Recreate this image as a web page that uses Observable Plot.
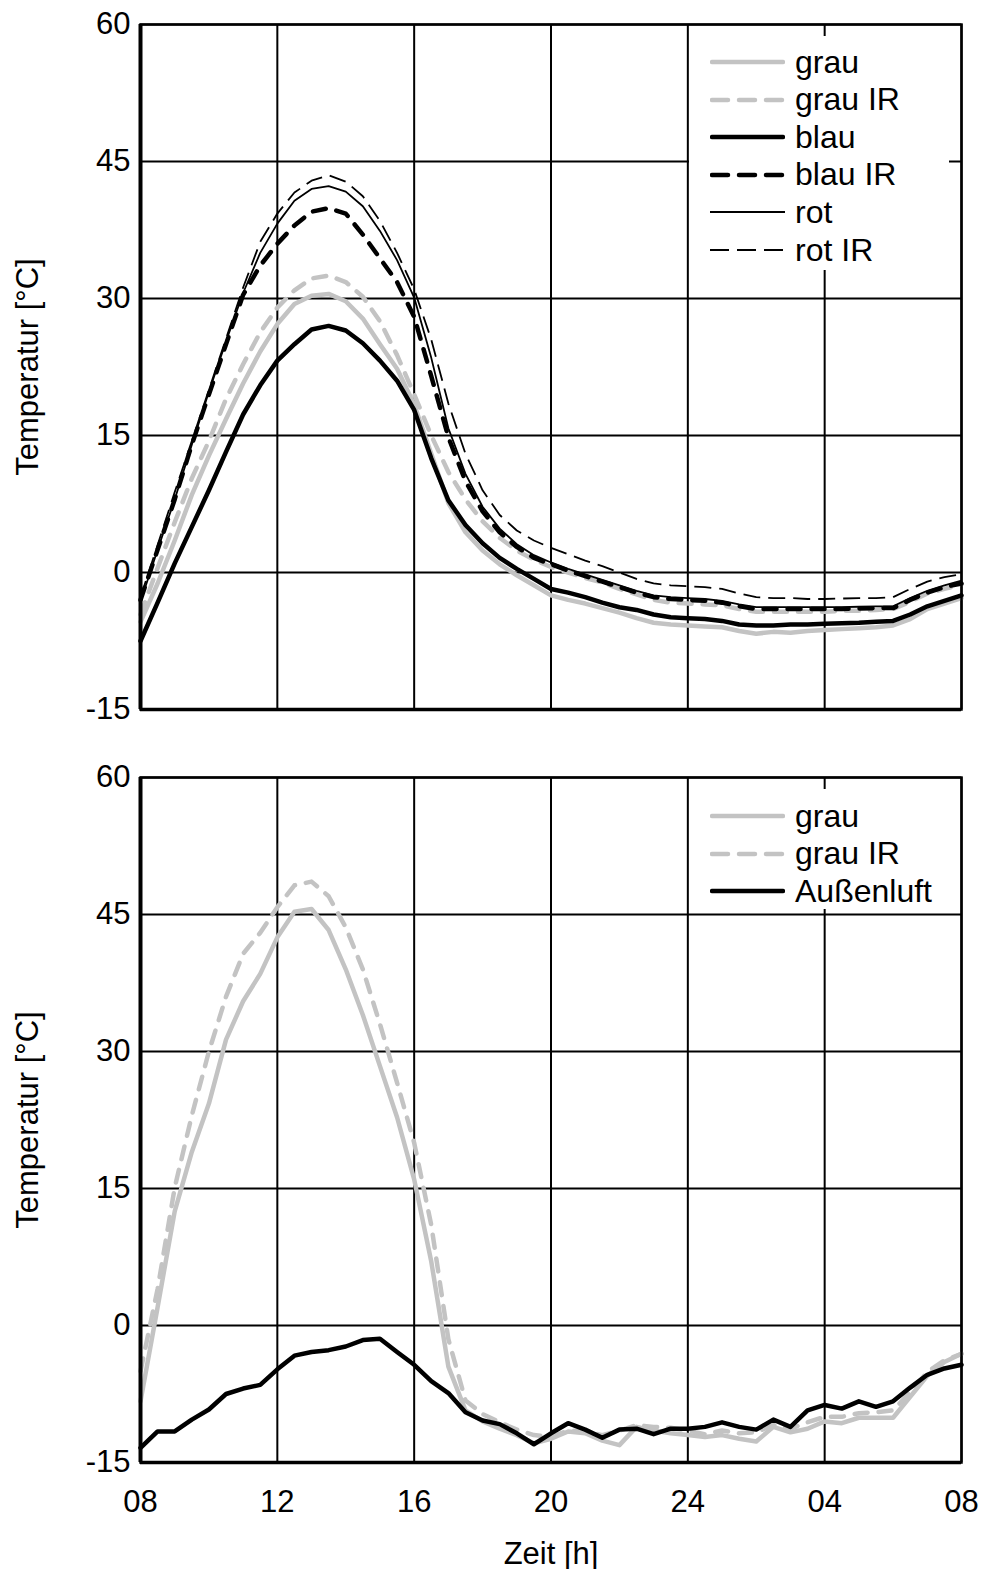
<!DOCTYPE html>
<html>
<head>
<meta charset="utf-8">
<script src="https://cdn.jsdelivr.net/npm/d3@7"></script>
<script src="https://cdn.jsdelivr.net/npm/@observablehq/plot@0.6"></script>
<style>
  body { margin: 0; background: #fff; }
  #wrap { position: relative; width: 995px; height: 1569px; font-family: "Liberation Sans", Arial, sans-serif; }
  #wrap svg.plot { display: block; }
  .legend { position: absolute; background: #fff; }
  .legend .row { position: absolute; left: 0; height: 36px; display: flex; align-items: center; font-size: 32px; color: #000; white-space: nowrap; }
  .legend .row svg { margin-left: 21px; margin-right: 10px; }
</style>
</head>
<body>
<div id="wrap"></div>
<script>
// ---- data (hours after 08:00, half-hourly) ----
const hours = [0,0.5,1,1.5,2,2.5,3,3.5,4,4.5,5,5.5,6,6.5,7,7.5,8,8.5,9,9.5,10,10.5,11,11.5,12,12.5,13,13.5,14,14.5,15,15.5,16,16.5,17,17.5,18,18.5,19,19.5,20,20.5,21,21.5,22,22.5,23,23.5,24];
const xTicks = [0,4,8,12,16,20,24];
const xTickLabels = ["08","12","16","20","24","04","08"];
const yTicks = [-15,0,15,30,45,60];
const yTickLabels = ["-15","0","15","30","45","60"];

// top panel
const grauTop   = [-5.4,-1.2,3.5,8.5,12.8,16.8,20.7,24.2,27.2,29.4,30.3,30.5,29.7,27.8,25.0,22.3,18.4,13.0,7.6,4.4,2.4,0.9,-0.3,-1.4,-2.5,-3.0,-3.4,-3.9,-4.4,-5.0,-5.5,-5.7,-5.8,-5.9,-6.0,-6.4,-6.7,-6.5,-6.6,-6.4,-6.3,-6.2,-6.1,-6.0,-5.8,-5.1,-4.0,-3.4,-2.8];
const grauIRTop = [-4.6,0.5,5.5,10.3,14.4,19.0,22.8,26.3,29.0,30.9,32.2,32.5,31.8,30.2,27.5,23.8,19.5,15.0,11.0,8.0,5.6,3.8,2.4,1.4,0.6,0.0,-0.6,-1.1,-1.8,-2.4,-3.0,-3.3,-3.4,-3.5,-3.6,-4.0,-4.3,-4.3,-4.3,-4.3,-4.3,-4.2,-4.2,-4.1,-4.0,-3.2,-2.3,-1.8,-1.3];
const blauTop   = [-7.5,-3.3,1.0,5.0,9.0,13.2,17.3,20.5,23.2,25.0,26.6,27.0,26.5,25.1,23.2,21.0,17.8,12.5,7.9,5.2,3.2,1.6,0.4,-0.7,-1.8,-2.2,-2.7,-3.3,-3.8,-4.1,-4.6,-4.9,-5.0,-5.1,-5.3,-5.7,-5.8,-5.8,-5.7,-5.7,-5.6,-5.55,-5.5,-5.4,-5.3,-4.6,-3.7,-3.1,-2.5];
const blauIRTop = [-3.0,2.5,8.0,14.0,19.5,25.0,30.4,33.6,36.0,38.0,39.5,39.9,39.3,37.0,34.4,31.8,28.0,21.5,14.8,10.0,6.7,4.4,2.8,1.6,0.9,0.2,-0.4,-1.0,-1.6,-2.2,-2.7,-2.9,-3.0,-3.1,-3.3,-3.7,-4.0,-4.0,-4.0,-4.0,-4.0,-4.0,-3.95,-3.9,-3.9,-3.0,-2.2,-1.6,-1.2];
const rotTop    = [-3.2,2.5,8.0,14.0,19.8,25.3,30.6,35.0,38.2,40.7,42.0,42.3,41.7,40.1,37.4,34.2,30.1,23.5,15.8,10.8,7.2,4.8,3.1,1.9,1.1,0.4,-0.2,-0.8,-1.4,-2.0,-2.5,-2.7,-2.8,-2.9,-3.1,-3.5,-3.8,-3.8,-3.8,-3.8,-3.8,-3.8,-3.75,-3.7,-3.7,-2.8,-2.0,-1.4,-0.9];
const rotIRTop  = [-2.7,3.0,8.8,14.4,20.0,25.6,31.2,36.2,39.3,41.6,42.9,43.5,42.8,41.2,38.5,35.0,31.0,25.5,18.5,13.0,9.0,6.3,4.6,3.5,2.7,2.0,1.3,0.7,0.0,-0.7,-1.2,-1.4,-1.5,-1.6,-1.8,-2.3,-2.7,-2.8,-2.8,-2.9,-2.9,-2.85,-2.8,-2.8,-2.7,-1.8,-1.0,-0.5,-0.2];

// bottom panel
const grauBot    = [-8.3,2.0,12.5,19.0,24.3,31.3,35.5,38.5,42.5,45.3,45.6,43.3,39.0,34.0,28.4,22.8,16.0,7.0,-4.5,-9.3,-10.5,-11.3,-12.0,-12.9,-12.4,-11.6,-11.8,-12.6,-13.1,-11.1,-11.5,-11.8,-12.0,-12.2,-12.0,-12.4,-12.7,-11.1,-11.7,-11.3,-10.5,-10.7,-10.1,-10.1,-10.1,-7.8,-5.5,-4.0,-3.1];
const grauIRBot  = [-5.0,4.0,15.1,23.0,30.0,36.0,40.7,43.0,45.8,48.2,48.6,47.0,43.6,39.0,33.0,26.6,20.0,11.0,-1.5,-8.2,-9.7,-10.6,-11.4,-12.0,-12.2,-11.5,-11.6,-12.0,-11.5,-10.9,-11.1,-11.2,-11.5,-11.9,-11.5,-11.8,-11.7,-10.9,-11.3,-10.6,-10.0,-10.0,-9.6,-9.5,-9.3,-7.3,-5.1,-3.8,-3.1];
const aussenBot  = [-13.4,-11.6,-11.6,-10.3,-9.2,-7.5,-6.9,-6.5,-4.8,-3.3,-2.9,-2.7,-2.3,-1.6,-1.45,-2.9,-4.3,-6.1,-7.4,-9.5,-10.4,-10.8,-11.8,-13.0,-11.8,-10.7,-11.4,-12.3,-11.4,-11.3,-11.9,-11.3,-11.3,-11.1,-10.6,-11.1,-11.4,-10.3,-11.1,-9.3,-8.7,-9.1,-8.3,-8.9,-8.3,-6.8,-5.4,-4.7,-4.3];

const topNames = ["grau","grau IR","blau","blau IR","rot","rot IR"];
const botNames = ["grau","grau IR","Außenluft"];

// ---- styles ----
const GRAY = "#c3c3c3";
const styles = {
  "grau":      {stroke: GRAY, strokeWidth: 4.5, dash: null, cap: "round"},
  "grau IR":   {stroke: GRAY, strokeWidth: 4.5, dash: "13,11", cap: "round"},
  "blau":      {stroke: "#000", strokeWidth: 4.5, dash: null, cap: "round"},
  "blau IR":   {stroke: "#000", strokeWidth: 4.5, dash: "13,11", cap: "round"},
  "rot":       {stroke: "#000", strokeWidth: 1.8, dash: null, cap: "butt"},
  "rot IR":    {stroke: "#000", strokeWidth: 1.8, dash: "17,8", cap: "butt"},
  "Außenluft": {stroke: "#000", strokeWidth: 4.5, dash: null, cap: "round"}
};

function toRows(name, values) { return hours.map((h, i) => ({h, v: values[i], series: name})); }

function lineMark(name, values) {
  const s = styles[name];
  const o = {x: "h", y: "v", stroke: s.stroke, strokeWidth: s.strokeWidth, strokeLinejoin: "round", strokeLinecap: s.cap};
  if (s.dash) o.strokeDasharray = s.dash;
  return Plot.lineY(toRows(name, values), o);
}

function panel({height, marginTop, marginBottom, series, showX}) {
  const gridStyle = {stroke: "#000", strokeOpacity: 1, strokeWidth: 2};
  const marks = [
    Plot.gridX(xTicks, gridStyle),
    Plot.gridY(yTicks, gridStyle),
    ...series.map(([n, v]) => lineMark(n, v)),
    Plot.frame({stroke: "#000", strokeWidth: 2.5}),
    Plot.ruleX([0], {stroke: "#000", strokeWidth: 4}),
    Plot.ruleY([-15], {stroke: "#000", strokeWidth: 3.5}),
    Plot.axisY(yTicks, {tickSize: 0, tickPadding: 10, tickFormat: (d) => yTickLabels[yTicks.indexOf(d)], label: "Temperatur [°C]", labelAnchor: "center", labelOffset: 125, labelArrow: "none", fontSize: 31})
  ];
  if (showX) {
    marks.push(Plot.axisX(xTicks, {tickSize: 0, tickPadding: 27, tickFormat: (d) => xTickLabels[xTicks.indexOf(d)], label: "Zeit [h]", labelAnchor: "center", labelOffset: 101, labelArrow: "none", fontSize: 31}));
  } else {
    marks.push(Plot.axisX({ticks: [], label: null}));
  }
  return Plot.plot({
    width: 995, height, marginLeft: 140, marginRight: 34, marginTop, marginBottom,
    x: {domain: [0, 24]},
    y: {domain: [-15, 60]},
    style: {fontFamily: "Liberation Sans, Arial, sans-serif", fontSize: "31px", color: "#000", background: "#fff", overflow: "visible"},
    marks
  });
}

const wrap = document.getElementById("wrap");
const p1 = panel({height: 740, marginTop: 24, marginBottom: 31, showX: false,
  series: [["grau", grauTop], ["grau IR", grauIRTop], ["blau", blauTop], ["blau IR", blauIRTop], ["rot", rotTop], ["rot IR", rotIRTop]]});
p1.classList.add("plot");
wrap.appendChild(p1);
const p2 = panel({height: 829, marginTop: 37, marginBottom: 107, showX: true,
  series: [["grau", grauBot], ["grau IR", grauIRBot], ["Außenluft", aussenBot]]});
p2.classList.add("plot");
wrap.appendChild(p2);

function legend(names, left, top, width, height, firstCenter, step) {
  const box = document.createElement("div");
  box.className = "legend";
  Object.assign(box.style, {left: left + "px", top: top + "px", width: width + "px", height: height + "px"});
  names.forEach((n, i) => {
    const s = styles[n];
    const row = document.createElement("div");
    row.className = "row";
    row.style.top = (firstCenter - top + i * step - 18) + "px";
    const sw = d3.create("svg").attr("width", 75).attr("height", 12);
    sw.append("line").attr("x1", s.cap === "round" ? 2 : 0).attr("x2", s.cap === "round" ? 73 : 75).attr("y1", 6).attr("y2", 6)
      .attr("stroke", s.stroke).attr("stroke-width", s.strokeWidth)
      .attr("stroke-linecap", s.cap).attr("stroke-dasharray", s.dash ? (s.cap === "round" ? "16,11" : "19,8") : null);
    row.appendChild(sw.node());
    const t = document.createElement("span");
    t.textContent = n;
    row.appendChild(t);
    box.appendChild(row);
  });
  wrap.appendChild(box);
}
legend(topNames, 689, 36, 260, 234, 62, 37.6);
legend(botNames, 689, 789, 260, 120, 816, 37.6);
</script>
</body>
</html>
